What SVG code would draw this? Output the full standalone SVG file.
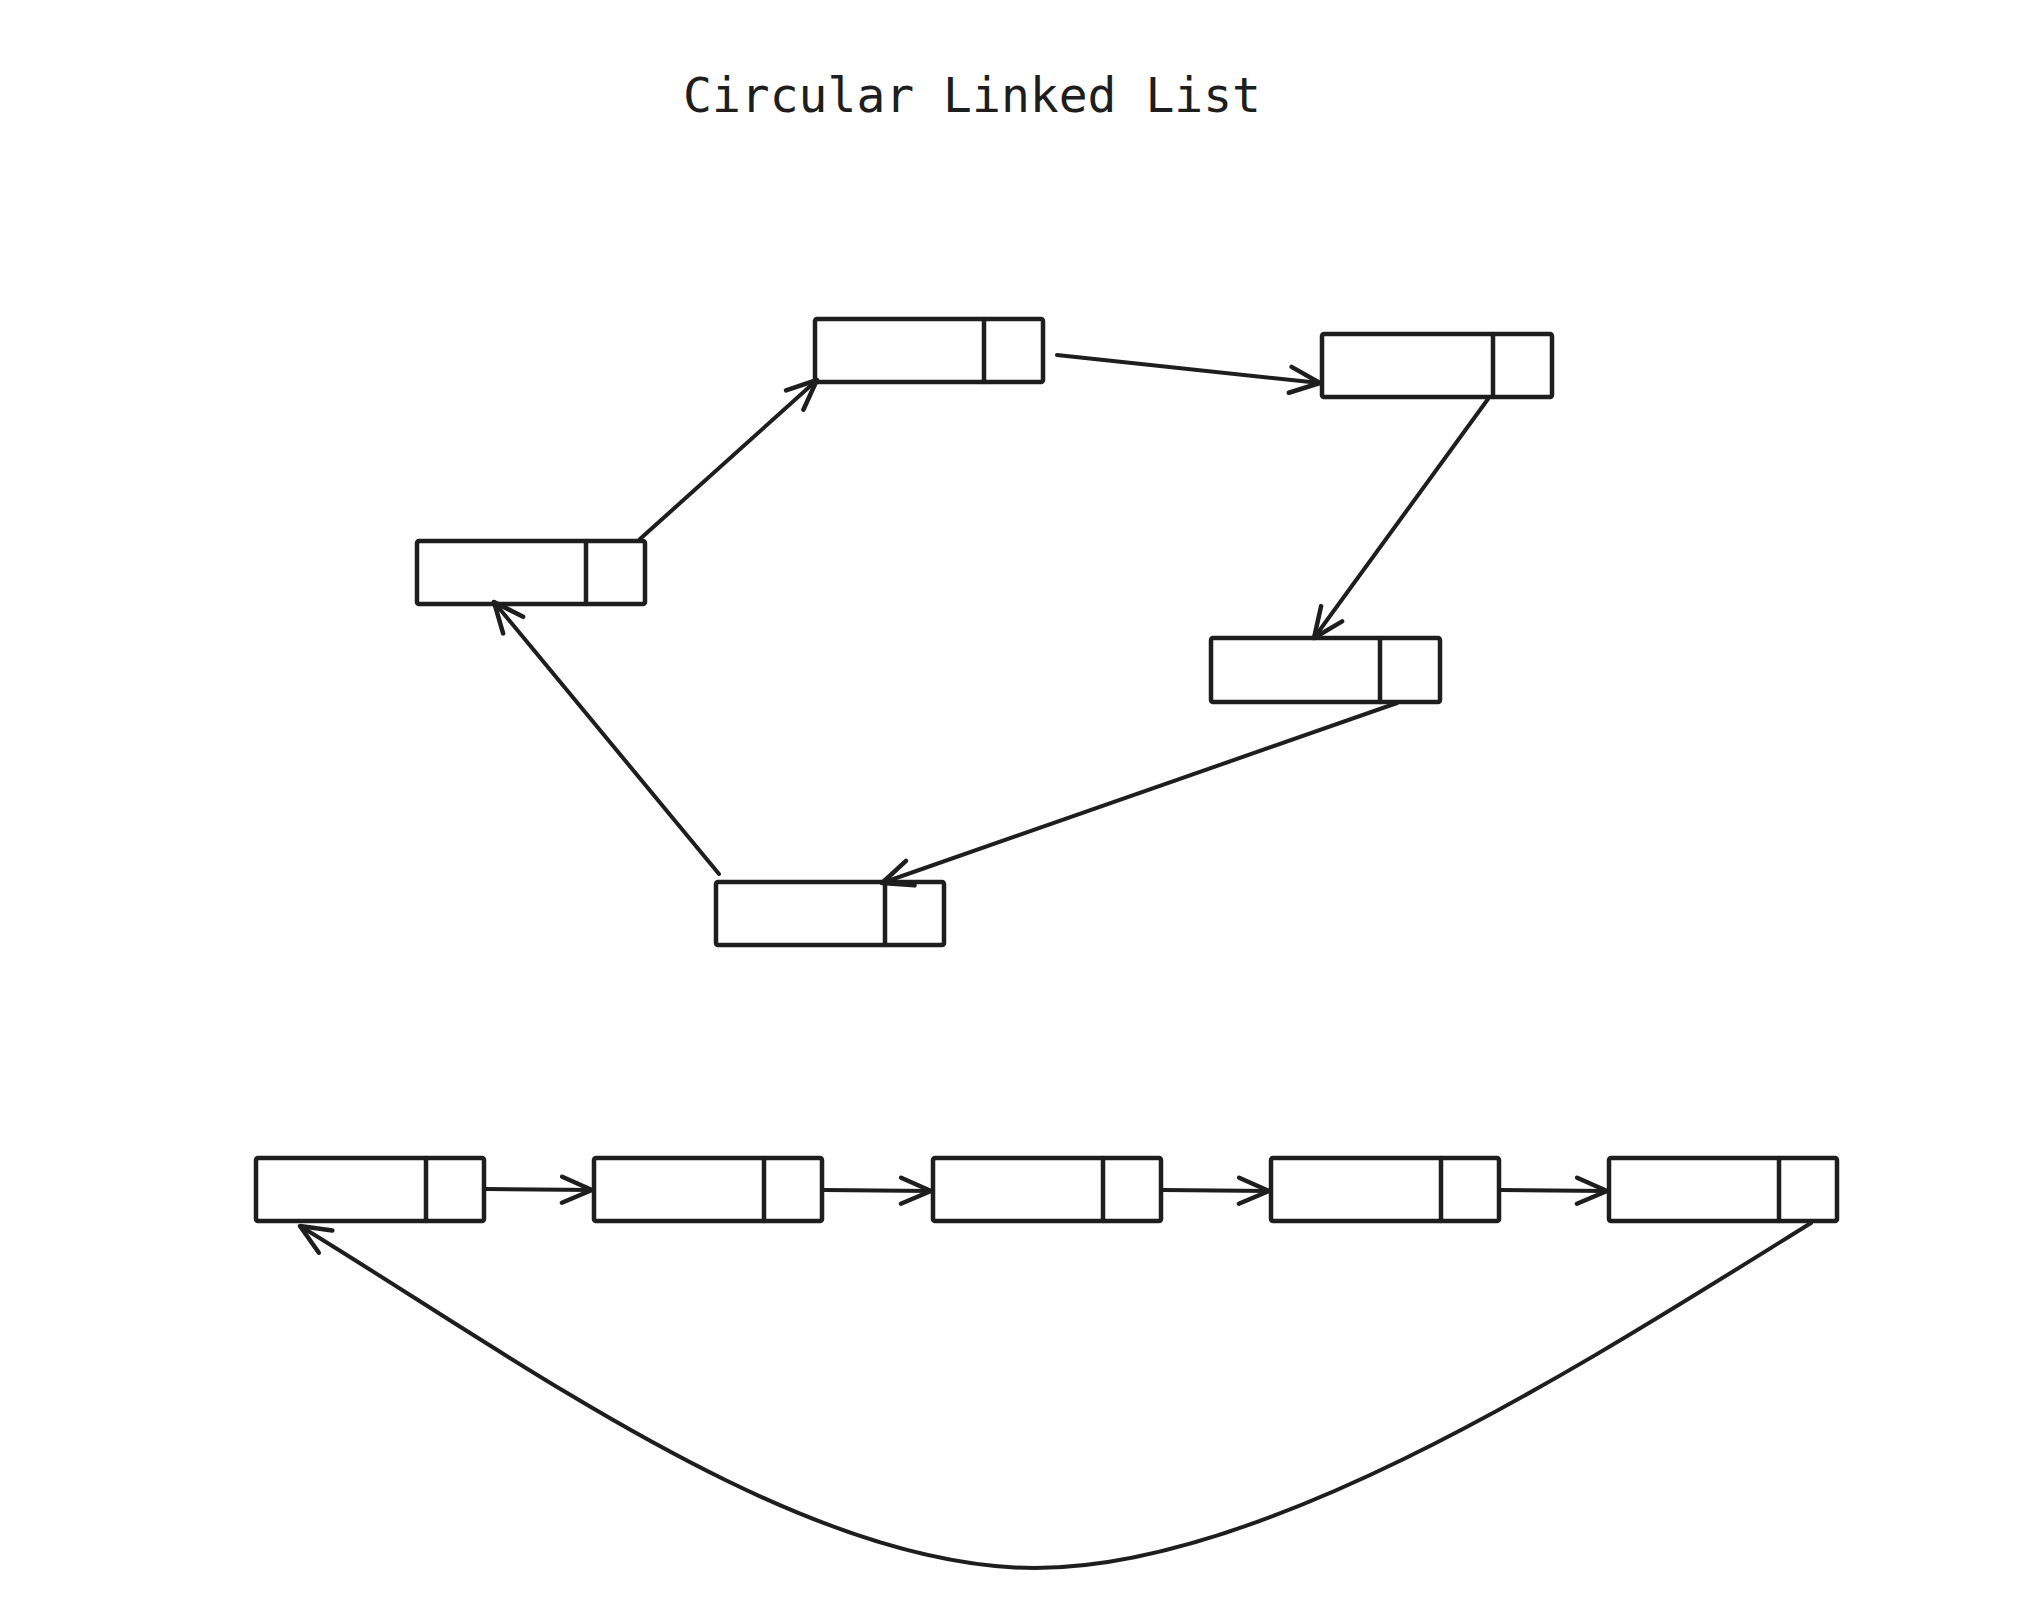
<svg xmlns="http://www.w3.org/2000/svg" width="2028" height="1622" viewBox="0 0 2028 1622">
<style>
.box{fill:none;stroke:#1e1e1e;stroke-width:4.5;stroke-linejoin:round}
.div{stroke:#1e1e1e;stroke-width:4.5;stroke-linecap:round}
.edge{fill:none;stroke:#1e1e1e;stroke-width:4;stroke-linecap:round}
.title{font-family:"DejaVu Sans Mono","Liberation Mono",monospace;font-size:48px;fill:#1e1e1e}
</style>
<defs>
<marker id="ah" markerUnits="userSpaceOnUse" markerWidth="60" markerHeight="60" refX="0" refY="0" viewBox="-40 -30 60 60" orient="auto">
<path d="M -30 -13 L 0 0 L -30 13" fill="none" stroke="#1e1e1e" stroke-width="4.5" stroke-linecap="round" stroke-linejoin="round"/>
</marker>
</defs>
<rect width="2028" height="1622" fill="#ffffff"/>
<text class="title" x="972" y="112" text-anchor="middle" textLength="578">Circular Linked List</text>

<g id="node-a"><rect class="box" x="815" y="319" width="228" height="63" rx="2"/><line class="div" x1="984" y1="319" x2="984" y2="382"/></g>
<g id="node-b"><rect class="box" x="1322" y="334" width="230" height="63" rx="2"/><line class="div" x1="1493" y1="334" x2="1493" y2="397"/></g>
<g id="node-c"><rect class="box" x="1211" y="638" width="229" height="64" rx="2"/><line class="div" x1="1380" y1="638" x2="1380" y2="702"/></g>
<g id="node-d"><rect class="box" x="716" y="882" width="228" height="63" rx="2"/><line class="div" x1="885" y1="882" x2="885" y2="945"/></g>
<g id="node-e"><rect class="box" x="417" y="541" width="228" height="63" rx="2"/><line class="div" x1="586" y1="541" x2="586" y2="604"/></g>

<g id="node-1"><rect class="box" x="256" y="1158" width="228" height="63" rx="2"/><line class="div" x1="426" y1="1158" x2="426" y2="1221"/></g>
<g id="node-2"><rect class="box" x="594" y="1158" width="228" height="63" rx="2"/><line class="div" x1="764" y1="1158" x2="764" y2="1221"/></g>
<g id="node-3"><rect class="box" x="933" y="1158" width="228" height="63" rx="2"/><line class="div" x1="1103" y1="1158" x2="1103" y2="1221"/></g>
<g id="node-4"><rect class="box" x="1271" y="1158" width="228" height="63" rx="2"/><line class="div" x1="1441" y1="1158" x2="1441" y2="1221"/></g>
<g id="node-5"><rect class="box" x="1609" y="1158" width="228" height="63" rx="2"/><line class="div" x1="1779" y1="1158" x2="1779" y2="1221"/></g>

<g id="connectors">
<path class="edge" d="M 640 539 L 817 380" marker-end="url(#ah)"/>
<path class="edge" d="M 1057 355 L 1320 383" marker-end="url(#ah)"/>
<path class="edge" d="M 1488 399 L 1314 638" marker-end="url(#ah)"/>
<path class="edge" d="M 1397 703 L 882 883" marker-end="url(#ah)"/>
<path class="edge" d="M 719 874 L 494 602" marker-end="url(#ah)"/>

<path class="edge" d="M 486 1189 L 592 1190" marker-end="url(#ah)"/>
<path class="edge" d="M 824 1190 L 931 1191" marker-end="url(#ah)"/>
<path class="edge" d="M 1163 1190 L 1269 1191" marker-end="url(#ah)"/>
<path class="edge" d="M 1501 1190 L 1607 1191" marker-end="url(#ah)"/>
<path class="edge" d="M 1811 1223 C 1590 1360, 1270 1568, 1035 1568 C 800 1568, 520 1360, 300 1226" marker-end="url(#ah)"/>
</g>
</svg>
